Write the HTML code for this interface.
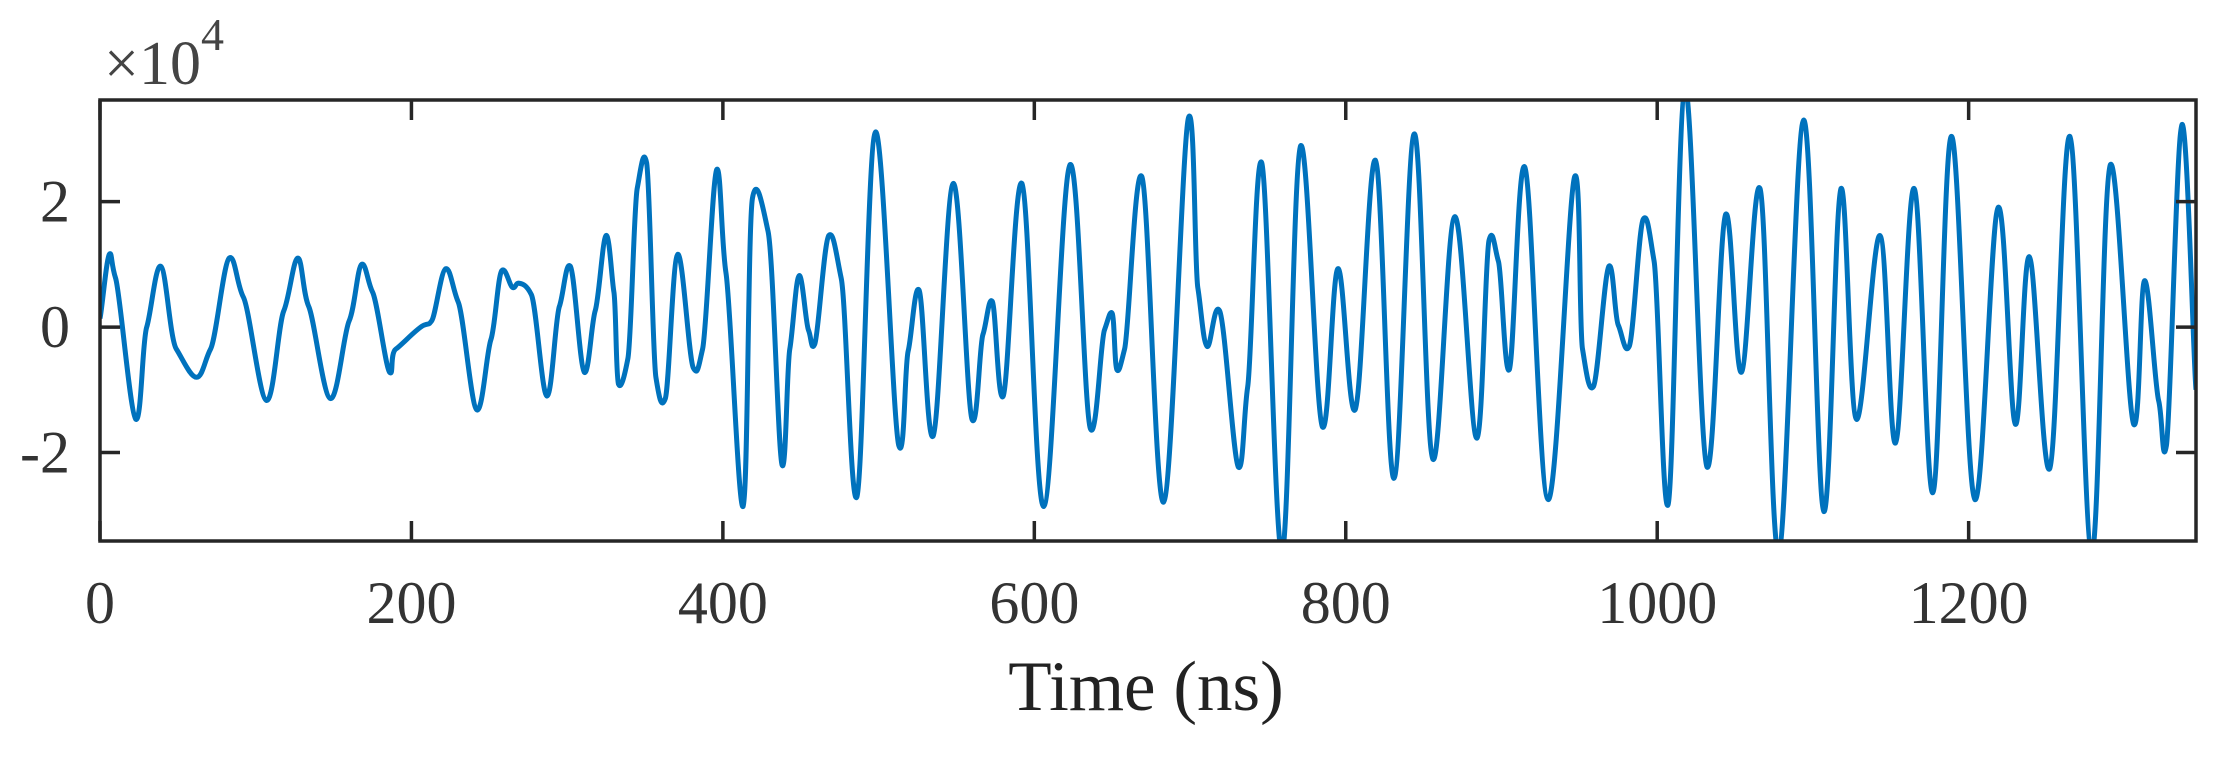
<!DOCTYPE html>
<html><head><meta charset="utf-8"><style>
html,body{margin:0;padding:0;background:#fff;}
svg{display:block;font-family:"Liberation Serif",serif;}
</style></head><body>
<svg id="chart" width="2219" height="764" viewBox="0 0 2219 764">
<defs><clipPath id="clip"><rect x="100" y="100" width="2096" height="441"/></clipPath></defs>
<g id="plot"></g>
<rect x="100" y="100" width="2096" height="441" fill="none" stroke="#262626" stroke-width="3.5"/>
<g id="ticks"></g>
<text x="104" y="84" font-size="62" fill="#444">×10<tspan dy="-34" font-size="46">4</tspan></text>
<text x="1146" y="710" font-size="71" text-anchor="middle" fill="#222">Time (ns)</text>
</svg>
<script>
const times=[0,6,10,23,30,39,49,62,71,83,92,107,118,127,134,148,160,168,175,186,190,208,213,222,230,242,251,258,265,269,277,287,295,302,311,318,325,330,333,339,345,351,357,363,371,381,387,396,402,413,419,429,438,443,449,455,459,468,476,486,498,513,519,526,535,548,560,567,573,580,592,606,623,636,645,650,653,658,669,683,699,705,711,719,731,737,746,759,771,785,795,806,819,831,844,856,870,884,892,898,905,915,930,947,952,959,969,975,982,991,998,1007,1018,1032,1044,1054,1066,1078,1094,1107,1118,1128,1143,1153,1165,1177,1189,1204,1219,1230,1239,1252,1265,1279,1291,1306,1313,1322,1327,1337,1346];
const values=[0.14,1.16,0.78,-1.47,0,0.97,-0.35,-0.8,-0.35,1.1,0.48,-1.17,0.26,1.1,0.33,-1.14,0.1,1.0,0.56,-0.72,-0.35,0.03,0.1,0.93,0.4,-1.32,-0.2,0.9,0.63,0.7,0.52,-1.1,0.33,0.97,-0.72,0.26,1.46,0.56,-0.91,-0.5,2.21,2.62,-0.8,-1.14,1.16,-0.65,-0.35,2.51,0.86,-2.86,2.06,1.53,-2.2,-0.35,0.82,-0.05,-0.27,1.46,0.78,-2.71,3.11,-1.89,-0.38,0.59,-1.74,2.29,-1.47,-0.12,0.41,-1.1,2.29,-2.86,2.59,-1.62,-0.05,0.22,-0.68,-0.35,2.4,-2.79,3.34,0.63,-0.31,0.26,-2.23,-0.95,2.62,-3.6,2.89,-1.59,0.93,-1.32,2.66,-2.41,3.08,-2.11,1.76,-1.77,1.38,1.05,-0.68,2.55,-2.75,2.4,-0.35,-0.95,0.97,0.03,-0.31,1.72,1.05,-2.83,3.8,-2.23,1.8,-0.72,2.21,-3.6,3.3,-2.94,2.21,-1.47,1.46,-1.85,2.21,-2.64,3.04,-2.75,1.91,-1.55,1.12,-2.26,3.04,-3.6,2.59,-1.55,0.74,-1.17,-1.89,3.23,-1.0];
const xTicks=[0,200,400,600,800,1000,1200];
const yTicks=[-2,0,2];
const X0=100,X1=2196,Y0=100,Y1=541,TMAX=1346,VMAX=3.62,VMIN=-3.41;
function sx(t){return X0+(t/TMAX)*(X1-X0);}
function sy(v){return Y0+(VMAX-v)/(VMAX-VMIN)*(Y1-Y0);}
const NS="http://www.w3.org/2000/svg";
const plot=document.getElementById('plot');
const pts=times.map((t,i)=>[sx(t),sy(values[i])]);
let d='M'+pts[0][0].toFixed(1)+','+pts[0][1].toFixed(1);
const k=0.18;
for(let i=0;i<pts.length-1;i++){
  const p0=pts[Math.max(0,i-1)],p1=pts[i],p2=pts[i+1],p3=pts[Math.min(pts.length-1,i+2)];
  const c1=[p1[0]+(p2[0]-p0[0])*k,p1[1]+(p2[1]-p0[1])*k*0.5];
  const c2=[p2[0]-(p3[0]-p1[0])*k,p2[1]-(p3[1]-p1[1])*k*0.5];
  d+=' C'+c1[0].toFixed(1)+','+c1[1].toFixed(1)+' '+c2[0].toFixed(1)+','+c2[1].toFixed(1)+' '+p2[0].toFixed(1)+','+p2[1].toFixed(1);
}
const line=document.createElementNS(NS,'path');


line.setAttribute('d',d);
line.setAttribute('fill','none');line.setAttribute('stroke','#0072BD');
line.setAttribute('stroke-width','5');line.setAttribute('stroke-linejoin','round');
line.setAttribute('clip-path','url(#clip)');
plot.appendChild(line);
const tg=document.getElementById('ticks');
function ln(x1,y1,x2,y2){const l=document.createElementNS(NS,'line');l.setAttribute('x1',x1);l.setAttribute('y1',y1);l.setAttribute('x2',x2);l.setAttribute('y2',y2);l.setAttribute('stroke','#262626');l.setAttribute('stroke-width','3.5');tg.appendChild(l);return l;}
xTicks.forEach(t=>{
  const x=sx(t);
  const a=ln(x,Y1,x,Y1-20);
  
  
  const b=ln(x,Y0,x,Y0+20);
  
  
  const tx=document.createElementNS(NS,'text');
  
  
  tx.setAttribute('x',x);tx.setAttribute('y',623);tx.setAttribute('font-size','60');
  tx.setAttribute('text-anchor','middle');tx.setAttribute('fill','#333');
  tx.textContent=t;tg.appendChild(tx);
});
yTicks.forEach(v=>{
  const y=sy(v);
  const a=ln(X0,y,X0+20,y);
  
  
  const b=ln(X1,y,X1-20,y);
  
  
  const tx=document.createElementNS(NS,'text');
  
  
  tx.setAttribute('x',70);tx.setAttribute('y',y+20);tx.setAttribute('font-size','60');
  tx.setAttribute('text-anchor','end');tx.setAttribute('fill','#333');
  tx.textContent=v;tg.appendChild(tx);
});
</script>
</body></html>
